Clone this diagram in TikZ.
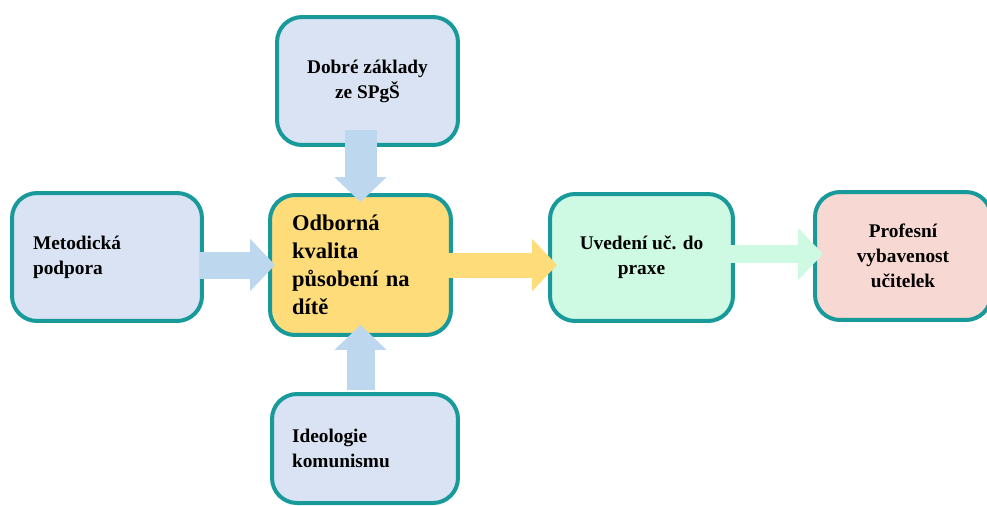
\documentclass[tikz,border=0pt]{standalone}
\usepackage{fontspec}
\setmainfont{Liberation Serif}
\usetikzlibrary{positioning,arrows.meta}
\definecolor{boxBorder}{RGB}{24,154,154}
\definecolor{boxBlue}{RGB}{218,227,243}
\definecolor{boxYellow}{RGB}{255,220,122}
\definecolor{boxGreen}{RGB}{206,250,228}
\definecolor{boxPink}{RGB}{248,216,210}
\definecolor{arrowBlue}{RGB}{189,215,238}
\tikzstyle{box} = [draw=boxBorder, line width=0.08cm, rounded corners=0.5cm, inner ysep=0pt, font=\bfseries\fontsize{11}{14.2}\selectfont]
\tikzstyle{arrow} = [-{Triangle[length=0.5cm, width=1.02cm]}, line width=0.56cm]

\begin{document}
\begin{tikzpicture}[x=0.02cm, y=-0.02cm]
      \useasboundingbox[fill=white] (0,0) rectangle (987,505);

      % boxes
      \node[box, fill=boxBlue, minimum width=3.62cm, minimum height=2.56cm, align=center] (zaklady) at (367.5,81) {Dobré základy\\ze SPgŠ};
      \node[box, fill=boxBlue, minimum height=2.56cm, inner xsep=0.42cm, text width=2.96cm, align=left] (podpora) at (107,257) {Metodická\\podpora};
      \node[box, fill=boxYellow, minimum height=2.8cm, inner xsep=0.44cm, text width=2.74cm, align=left, font=\bfseries\fontsize{12.8}{15.9}\selectfont] (kvalita) at (360.5,265) {Odborná\\kvalita\\působení na\\dítě};
      \node[box, fill=boxGreen, minimum width=3.66cm, minimum height=2.54cm, align=center] (uvedeni) at (641.5,257.5) {Uvedení uč. do\\praxe};
      \node[box, fill=boxPink, minimum width=3.52cm, minimum height=2.56cm, align=center] (vybavenost) at (903,256) {Profesní\\vybavenost\\učitelek};
      \node[box, fill=boxBlue, minimum height=2.18cm, inner xsep=0.4cm, text width=2.92cm, align=left] (ideologie) at (365,448.5) {Ideologie\\komunismu};

      % arrows
      \draw[arrow, arrowBlue, line width=0.64cm, shorten <=-0.34cm, shorten >=-0.18cm] (zaklady.south -| kvalita.north) -- (kvalita.north);
      \draw[arrow, arrowBlue, line width=0.54cm, shorten <=-0.08cm, shorten >=-0.14cm] (podpora.east |- kvalita.west) -- (kvalita.west);
      \draw[arrow, arrowBlue, line width=0.56cm, shorten <=0.04cm, shorten >=-0.24cm] (ideologie.north -| kvalita.south) -- (kvalita.south);
      \draw[arrow, boxYellow, line width=0.5cm, shorten <=-0.16cm, shorten >=-0.18cm] (kvalita.east) -- (kvalita.east -| uvedeni.west);
      \draw[arrow, boxGreen, line width=0.36cm, shorten <=-0.2cm, shorten >=-0.2cm] ([yshift=0.07cm]uvedeni.east) -- ([yshift=0.07cm]uvedeni.east -| vybavenost.west);
\end{tikzpicture}
\end{document}
